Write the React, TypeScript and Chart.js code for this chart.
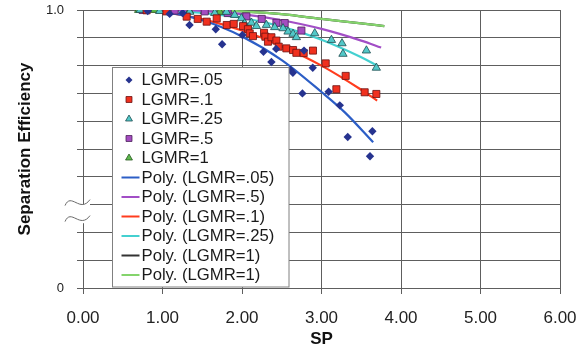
import React, { useEffect, useRef } from 'react';
import { Chart, registerables } from 'chart.js';

Chart.register(...registerables);

// ---- data ----
const xTickValues = [0, 1, 2, 3, 4, 5, 6];
const yTickLabels: Record<string, string> = { '0': '0', '1': '1.0' };

const sp05 = [0.814, 1.09, 1.254, 1.34, 1.67, 1.75, 2.005, 2.27, 2.37, 2.43, 2.61, 2.64, 2.78, 2.89, 2.76, 3.09, 3.23, 3.33, 3.64, 3.61];
const eff05 = [0.996, 0.986, 0.989, 0.946, 0.931, 0.877, 0.91, 0.85, 0.813, 0.86, 0.784, 0.774, 0.854, 0.792, 0.7, 0.706, 0.657, 0.543, 0.564, 0.474];

const sp10 = [0.8, 1.05, 1.304, 1.443, 1.556, 1.682, 1.808, 1.896, 2.013, 2.075, 2.097, 2.138, 2.277, 2.294, 2.327, 2.37, 2.433, 2.462, 2.558, 2.642, 2.684, 2.776, 2.893, 3.053, 3.304, 3.187, 3.543, 3.69];
const eff10 = [0.999, 0.995, 0.976, 0.968, 0.958, 0.97, 0.946, 0.95, 0.942, 0.931, 0.916, 0.906, 0.918, 0.904, 0.886, 0.902, 0.89, 0.868, 0.862, 0.856, 0.846, 0.845, 0.854, 0.808, 0.763, 0.715, 0.704, 0.698];

const sp25 = [0.72, 0.965, 1.342, 1.657, 1.804, 1.908, 1.992, 2.034, 2.118, 2.181, 2.307, 2.411, 2.516, 2.579, 2.642, 2.684, 2.915, 3.125, 3.258, 3.27, 3.565, 3.69];
const eff25 = [1.0, 0.996, 0.993, 0.989, 0.993, 0.982, 0.97, 0.952, 0.954, 0.942, 0.946, 0.938, 0.934, 0.922, 0.914, 0.902, 0.916, 0.892, 0.88, 0.842, 0.854, 0.792];

const sp50 = [0.75, 1.153, 1.531, 1.82, 2.055, 2.248, 2.433, 2.537, 2.747];
const eff50 = [1.0, 0.998, 0.995, 0.989, 0.977, 0.968, 0.954, 0.953, 0.926];

const sp100 = [0.7, 0.9, 1.09, 1.34, 1.53, 1.72];
const eff100 = [1.0, 1.0, 0.998, 0.996, 0.996, 0.993];

// trend lines (polynomial fits, read at these SP values)
const fitX05 = [0.7, 1.0, 1.5, 2.0, 2.5, 3.0, 3.3, 3.65];
const fitY05 = [1.0, 0.994, 0.963, 0.905, 0.82, 0.705, 0.63, 0.524];
const fitX10 = [0.7, 1.0, 1.5, 2.0, 2.5, 3.0, 3.5, 3.7];
const fitY10 = [1.0, 0.992, 0.967, 0.926, 0.87, 0.8, 0.713, 0.674];
const fitX25 = [0.7, 1.0, 1.5, 2.0, 2.5, 3.0, 3.5, 3.7];
const fitY25 = [1.0, 0.999, 0.99, 0.972, 0.94, 0.893, 0.83, 0.8];
const fitX50 = [0.7, 1.0, 1.5, 2.0, 2.5, 3.0, 3.5, 3.75];
const fitY50 = [1.0, 1.0, 0.997, 0.985, 0.963, 0.932, 0.89, 0.865];
const fitX100 = [0.7, 1.0, 1.5, 2.0, 2.5, 3.0, 3.5, 3.79];
const fitY100 = [1.0, 1.0, 1.0, 0.995, 0.985, 0.968, 0.952, 0.942];

const FONT = "'Liberation Sans', Arial, sans-serif";
const GRID = '#5e5e5e';

const pts = (xs: number[], ys: number[]) => xs.map((x, i) => ({ x, y: ys[i] }));

function markerPath(ctx: CanvasRenderingContext2D, style: string, x: number, y: number, r: number) {
  ctx.beginPath();
  if (style === 'rectRot') {
    ctx.moveTo(x, y - r); ctx.lineTo(x + r, y); ctx.lineTo(x, y + r); ctx.lineTo(x - r, y);
  } else if (style === 'rect') {
    const s = r * Math.SQRT1_2;
    ctx.rect(x - s, y - s, 2 * s, 2 * s);
  } else {
    ctx.moveTo(x, y - r);
    ctx.lineTo(x + r * Math.sin((2 * Math.PI) / 3), y - r * Math.cos((2 * Math.PI) / 3));
    ctx.lineTo(x + r * Math.sin((4 * Math.PI) / 3), y - r * Math.cos((4 * Math.PI) / 3));
  }
  ctx.closePath();
}

const boxLegend = {
  id: 'boxLegend',
  afterDraw(chart: any) {
    const { ctx, chartArea } = chart;
    const x0 = Math.round(chartArea.left) + 29.5;
    const y0 = Math.round(chartArea.top) + 57.5;
    const w = 176.5;
    const h = 219.5;
    ctx.save();
    ctx.fillStyle = '#ffffff';
    ctx.fillRect(x0, y0, w, h);
    ctx.strokeStyle = '#808080';
    ctx.lineWidth = 1;
    ctx.strokeRect(x0, y0, w, h);
    ctx.font = `16.7px ${FONT}`;
    ctx.textBaseline = 'middle';
    ctx.textAlign = 'left';
    chart.data.datasets.forEach((ds: any, i: number) => {
      const cy = y0 + 12.5 + i * 19.5;
      const mx = x0 + 16.5;
      if (ds.showLine) {
        ctx.strokeStyle = ds.borderColor;
        ctx.lineWidth = 2;
        ctx.beginPath();
        ctx.moveTo(x0 + 9, cy);
        ctx.lineTo(x0 + 27, cy);
        ctx.stroke();
      } else {
        markerPath(ctx, ds.pointStyle, mx, cy, ds.pointStyle === 'triangle' ? 4 : ds.pointStyle === 'rect' ? 4.2 : 3.5);
        ctx.fillStyle = ds.backgroundColor;
        ctx.fill();
        if (ds.borderWidth) {
          ctx.strokeStyle = ds.borderColor;
          ctx.lineWidth = 0.8;
          ctx.stroke();
        }
      }
      ctx.fillStyle = '#1a1a1a';
      ctx.fillText(ds.label, x0 + 29, cy + 0.5);
    });
    ctx.restore();
  },
};

const axisBreak = {
  id: 'axisBreak',
  afterDraw(chart: any) {
    const { ctx, chartArea } = chart;
    const ax = Math.round(chartArea.left);
    const yPix = chart.scales.y.getPixelForValue(0.3);
    const curve = (yc: number) => {
      ctx.moveTo(ax - 18, yc + 4);
      ctx.bezierCurveTo(ax - 12, yc - 10, ax - 3, yc + 12, ax + 7, yc - 2);
    };
    ctx.save();
    ctx.beginPath();
    curve(yPix - 3);
    ctx.lineTo(ax + 7, yPix + 14);
    ctx.bezierCurveTo(ax - 3, yPix + 28, ax - 12, yPix + 6, ax - 18, yPix + 17);
    ctx.closePath();
    ctx.fillStyle = '#ffffff';
    ctx.fill();
    ctx.strokeStyle = '#6a6a6a';
    ctx.lineWidth = 1;
    ctx.beginPath();
    curve(yPix - 3);
    ctx.stroke();
    ctx.beginPath();
    curve(yPix + 13);
    ctx.stroke();
    ctx.restore();
  },
};

export default function App() {
  const ref = useRef<HTMLCanvasElement>(null);
  useEffect(() => {
    if (!ref.current) return;
    const scatter = (label: string, data: any[], style: string, fill: string, border: string, r: number, bw: number) => ({
      type: 'scatter' as const,
      label,
      data,
      pointStyle: style,
      backgroundColor: fill,
      borderColor: border,
      borderWidth: bw,
      pointRadius: r,
      showLine: false,
      order: 1,
    });
    const fit = (label: string, data: any[], color: string, order = 2) => ({
      type: 'scatter' as const,
      label,
      data,
      showLine: true,
      borderColor: color,
      backgroundColor: color,
      borderWidth: 2.2,
      pointRadius: 0,
      cubicInterpolationMode: 'monotone' as const,
      order,
    });
    const chart = new Chart(ref.current, {
      type: 'scatter',
      data: {
        datasets: [
          scatter('LGMR=.05', pts(sp05, eff05), 'rectRot', '#26338f', '#26338f', 4.2, 0),
          scatter('LGMR=.1', pts(sp10, eff10), 'rect', '#f0301e', '#6a1010', 5, 0.8),
          scatter('LGMR=.25', pts(sp25, eff25), 'triangle', '#52c8c8', '#1e4d50', 4.8, 0.8),
          scatter('LGMR=.5', pts(sp50, eff50), 'rect', '#a44cc0', '#4a2058', 5, 0.8),
          scatter('LGMR=1', pts(sp100, eff100), 'triangle', '#5cb84c', '#2a5a20', 4.8, 0.8),
          fit('Poly. (LGMR=.05)', pts(fitX05, fitY05), '#2c5ec6'),
          fit('Poly. (LGMR=.5)', pts(fitX50, fitY50), '#a24ec6'),
          fit('Poly. (LGMR=.1)', pts(fitX10, fitY10), '#ff3c1e'),
          fit('Poly. (LGMR=.25)', pts(fitX25, fitY25), '#44d0d0'),
          fit('Poly. (LGMR=1)', pts(fitX100, fitY100), '#333333', 3),
          fit('Poly. (LGMR=1)', pts(fitX100, fitY100), '#84d46c'),
        ],
      },
      options: {
        responsive: false,
        animation: false,
        devicePixelRatio: 1,
        layout: { padding: { top: 10, right: 26, left: 0, bottom: 0 } },
        plugins: { legend: { display: false }, tooltip: { enabled: false } },
        scales: {
          x: {
            type: 'linear',
            min: 0,
            max: 6,
            afterBuildTicks: (s: any) => {
              s.ticks = xTickValues.map((v) => ({ value: v }));
            },
            afterFit: (s: any) => {
              s.height = 67;
              s.paddingLeft = 0;
              s.paddingRight = 0;
            },
            ticks: {
              padding: 14,
              color: '#222',
              font: { family: FONT, size: 17 },
              callback: (v: any) => Number(v).toFixed(2),
            },
            grid: { color: GRID, lineWidth: 1, tickLength: 6, drawTicks: true },
            border: { color: GRID },
            title: {
              display: true,
              text: 'SP',
              color: '#111',
              font: { family: FONT, size: 17, weight: 'bold' },
              padding: { top: 0, bottom: 5 },
            },
          },
          y: {
            type: 'linear',
            min: 0,
            max: 1,
            ticks: {
              stepSize: 0.1,
              padding: 13,
              color: '#222',
              font: { family: FONT, size: 13 },
              callback: (v: any) => {
                const key = String(Math.round(Number(v) * 1000) / 1000);
                return yTickLabels[key] ?? '';
              },
            },
            afterFit: (s: any) => {
              s.width = 83;
              s.paddingTop = 0;
              s.paddingBottom = 0;
            },
            grid: { color: GRID, lineWidth: 1, tickLength: 6, drawTicks: true },
            border: { color: GRID },
            title: {
              display: true,
              text: 'Separation Efficiency',
              color: '#111',
              font: { family: FONT, size: 17, weight: 'bold' },
              padding: { top: 15, bottom: 0 },
            },
          },
        },
      } as any,
      plugins: [axisBreak, boxLegend],
    });
    return () => chart.destroy();
  }, []);
  return (
    <div style={{ position: 'fixed', left: 0, top: 0, width: 586, height: 355, background: '#fff' }}>
      <canvas ref={ref} width={586} height={355} style={{ width: 586, height: 355, display: 'block' }} />
    </div>
  );
}
